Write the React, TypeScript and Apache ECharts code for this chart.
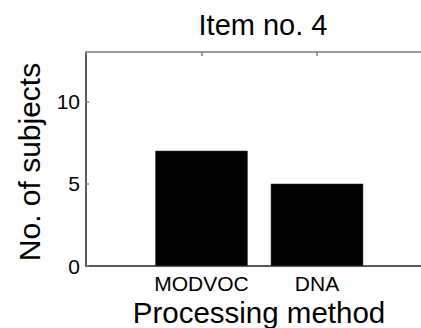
import React, { useEffect, useRef } from "react";
import * as echarts from "echarts";

const titleText = "Item no. 4";
const categories = ["", "MODVOC", "DNA", ""];
const subjectCounts = [null, 7, 5, null];
const yTicks = { min: 0, max: 13, interval: 5 };
const xAxisName = "Processing method";
const yAxisName = "No. of subjects";

const FONT = "'Liberation Sans', Arial, Helvetica, sans-serif";

export default function App() {
  const ref = useRef<HTMLDivElement>(null);
  useEffect(() => {
    document.body.style.margin = "0";
    document.body.style.overflow = "hidden";
    const chart = echarts.init(ref.current!, null, { renderer: "svg" });
    chart.setOption({
      animation: false,
      backgroundColor: "#ffffff",
      textStyle: { fontFamily: FONT },
      title: {
        text: titleText,
        left: 258,
        top: 5,
        textAlign: "center",
        textStyle: { fontFamily: FONT, fontSize: 29, fontWeight: "normal", color: "#000" },
      },
      graphic: [
        {
          type: "text",
          x: 259,
          y: 327,
          style: {
            text: xAxisName,
            fontFamily: FONT,
            fontSize: 29.5,
            fill: "#000",
            textAlign: "center",
            textVerticalAlign: "bottom",
          },
        },
      ],
      grid: {
        left: 86,
        top: 52,
        right: 7.5,
        bottom: 62,
        containLabel: false,
        outerBoundsMode: "none",
      },
      xAxis: [
        {
          type: "category",
          data: categories,
          boundaryGap: false,
          position: "bottom",
          axisLine: { lineStyle: { color: "#262626", width: 1.5 } },
          axisTick: { show: false },
          axisLabel: { fontFamily: FONT, fontSize: 21, color: "#000", margin: 7, interval: 0 },
          splitLine: { show: false },
        },
        {
          type: "category",
          data: categories,
          boundaryGap: false,
          position: "top",
          axisLine: { lineStyle: { color: "#9a9a9a", width: 2 } },
          axisTick: {
            show: true,
            inside: true,
            length: 4,
            interval: (i: number) => i === 1 || i === 2,
            lineStyle: { color: "#808080", width: 1.5 },
          },
          axisLabel: { show: false },
          splitLine: { show: false },
        },
      ],
      yAxis: {
        type: "value",
        min: yTicks.min,
        max: yTicks.max,
        interval: yTicks.interval,
        axisLine: { show: true, lineStyle: { color: "#262626", width: 1.5 } },
        axisTick: { show: true, inside: true, length: 3, lineStyle: { color: "#808080", width: 1.5 } },
        axisLabel: {
          fontFamily: FONT,
          fontSize: 21,
          color: "#000",
          margin: 6,
          showMaxLabel: false,
          formatter: (v: number) => (v % 5 === 0 ? String(v) : ""),
        },
        splitLine: { show: false },
        name: yAxisName,
        nameLocation: "middle",
        nameGap: 42,
        nameRotate: 90,
        nameTextStyle: { fontFamily: FONT, fontSize: 30, color: "#000", padding: [0, 6, 0, 0] },
      },
      series: [
        {
          type: "bar",
          data: subjectCounts,
          xAxisIndex: 0,
          barWidth: "80%",
          itemStyle: { color: "#000", borderColor: "#333", borderWidth: 0.5 },
        },
      ],
    });
    return () => chart.dispose();
  }, []);
  return (
    <div style={{ width: 421, height: 328, overflow: "hidden", position: "relative" }}>
      <div ref={ref} style={{ width: 440, height: 328 }} />
    </div>
  );
}
